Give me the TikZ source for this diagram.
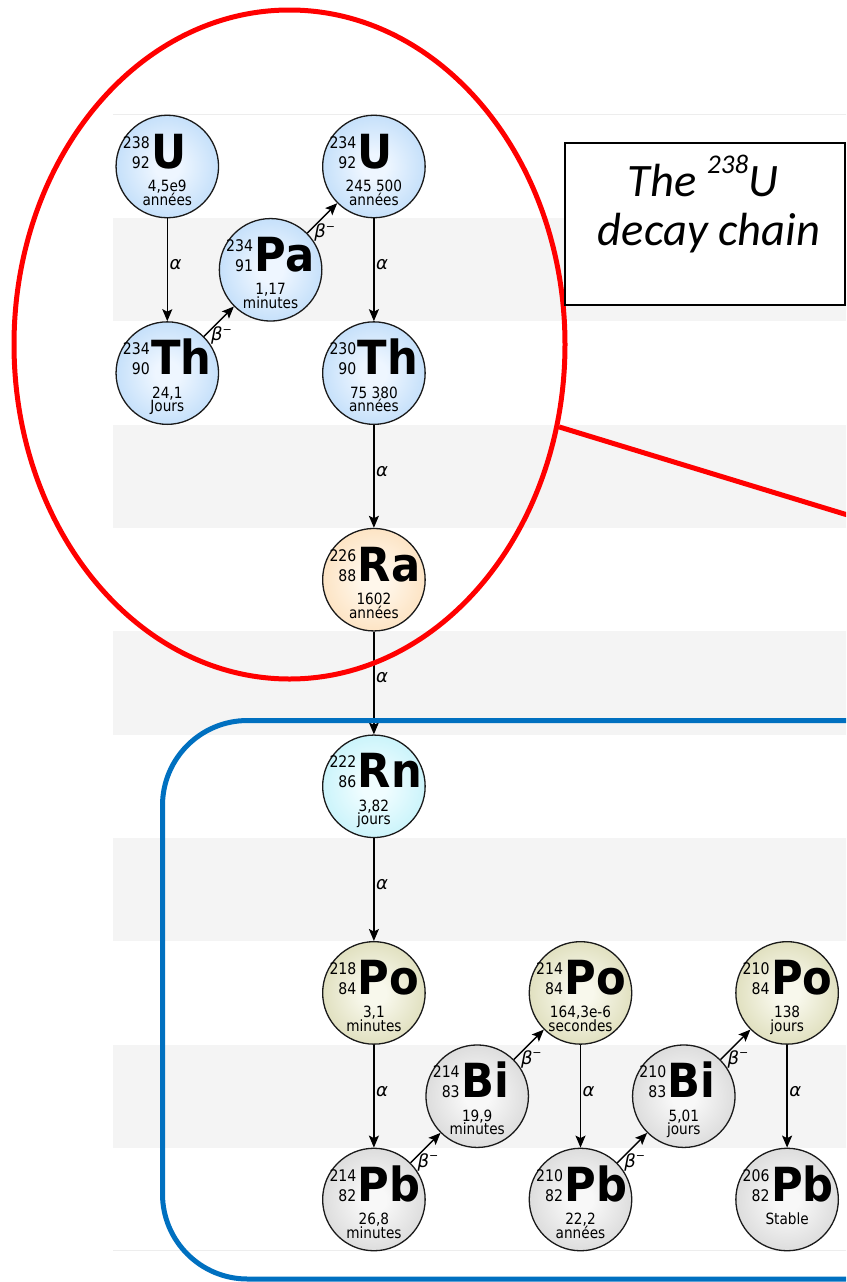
\documentclass[tikz,border=0pt]{standalone}
\usepackage{fontspec}
\usetikzlibrary{arrows.meta,shapes.geometric}
\setmainfont{DejaVu Sans}
\newfontfamily\condfont[FakeStretch=0.88]{DejaVu Sans}
\newfontfamily\symbfont[FakeStretch=0.92]{DejaVu Sans}
\newfontfamily\titlefont{Carlito}

% colours
\definecolor{stripe}{HTML}{F4F4F4}
\definecolor{chartline}{HTML}{EDEDED}
\definecolor{ringred}{HTML}{FF0000}
\definecolor{frameblue}{HTML}{0070C0}
\definecolor{nucedge}{HTML}{1A1A1A}
\definecolor{blueIn}{RGB}{238,246,255}  \definecolor{blueOut}{RGB}{145,196,244}
\definecolor{orangeIn}{RGB}{255,247,235}\definecolor{orangeOut}{RGB}{250,203,146}
\definecolor{cyanIn}{RGB}{240,253,255}  \definecolor{cyanOut}{RGB}{155,232,245}
\definecolor{oliveIn}{RGB}{248,248,236} \definecolor{oliveOut}{RGB}{194,193,134}
\definecolor{greyIn}{RGB}{248,248,248}  \definecolor{greyOut}{RGB}{185,185,185}

\pgfdeclareradialshading{blueball}{\pgfpoint{0bp}{0bp}}{color(0bp)=(blueIn); color(6bp)=(blueIn); color(50bp)=(blueOut)}
\pgfdeclareradialshading{orangeball}{\pgfpoint{0bp}{0bp}}{color(0bp)=(orangeIn); color(6bp)=(orangeIn); color(50bp)=(orangeOut)}
\pgfdeclareradialshading{cyanball}{\pgfpoint{0bp}{0bp}}{color(0bp)=(cyanIn); color(6bp)=(cyanIn); color(50bp)=(cyanOut)}
\pgfdeclareradialshading{oliveball}{\pgfpoint{0bp}{0bp}}{color(0bp)=(oliveIn); color(6bp)=(oliveIn); color(50bp)=(oliveOut)}
\pgfdeclareradialshading{greyball}{\pgfpoint{0bp}{0bp}}{color(0bp)=(greyIn); color(6bp)=(greyIn); color(50bp)=(greyOut)}

% text styles inside a nuclide
\newcommand\nucmass{\condfont\fontsize{16}{16}\selectfont}
\newcommand\nucsym{\symbfont\bfseries\fontsize{47}{47}\selectfont}
\newcommand\nuclife{\condfont\fontsize{15.5}{14}\selectfont}
% put #3 at offset (#1 right, #2 up) from the reference point
\newcommand\placeat[3]{\makebox[0pt][l]{\hspace*{#1}\raisebox{#2}{#3}}}
% mass number, atomic number, symbol, half-life (two lines)
\newcommand\nucbox[5]{\smash{\makebox[0pt][l]{%
  \placeat{-17.5pt}{18.5pt}{\makebox[0pt][r]{\nucmass #1}}%
  \placeat{-17.5pt}{-1.5pt}{\makebox[0pt][r]{\nucmass #2}}%
  \placeat{-16pt}{-1.5pt}{\makebox[0pt][l]{\nucsym #3}}%
  \placeat{0pt}{-25pt}{\makebox[0pt][c]{\nuclife #4}}%
  \placeat{0pt}{-38.5pt}{\makebox[0pt][c]{\nuclife #5}}}}}
\newcommand\betaminus{\textit{β}\raisebox{0.42em}{\fontsize{11}{11}\selectfont −}}

\tikzset{
  nuc/.style={circle, draw=nucedge, line width=1.3pt, minimum size=102.5pt,
    inner sep=0pt, shade, shading=#1},
  decay/.style={draw=black, line width=1.4pt,
    -{Stealth[length=12pt,width=10pt,inset=2.5pt]}},
  alab/.style={pos=0.45, right, inner sep=1.5pt,
    font=\itshape\fontsize{18}{18}\selectfont},
  blab/.style={pos=0.5, anchor=north, inner sep=0pt, xshift=2.5pt, yshift=-5pt,
    font=\fontsize{18}{18}\selectfont},
}

\begin{document}
\begin{tikzpicture}[x=1pt,y=-1pt]
\useasboundingbox (0,0) rectangle (846,1282);
\clip (0,0) rectangle (846,1282);
\fill[white] (0,0) rectangle (846,1282);

% chart rows
\foreach \k in {1,3,5,7,9}
  \fill[stripe] (113,{114.85+103.3*\k}) rectangle (900,{114.85+103.3*(\k+1)});
\draw[chartline, line width=0.8pt] (113,114.85) -- (900,114.85);
\draw[chartline, line width=0.8pt] (113,1250.15) -- (900,1250.15);

% nuclides
\node[nuc=blueball]   (U238)  at (167.3,166.5)  {\nucbox{238}{92}{U}{4,5e9}{années}};
\node[nuc=blueball]   (Th234) at (167.3,373.1)  {\nucbox{234}{90}{Th}{24,1}{Jours}};
\node[nuc=blueball]   (Pa234) at (270.6,269.8)  {\nucbox{234}{91}{Pa}{1,17}{minutes}};
\node[nuc=blueball]   (U234)  at (373.9,166.5)  {\nucbox{234}{92}{U}{245 500}{années}};
\node[nuc=blueball]   (Th230) at (373.9,373.1)  {\nucbox{230}{90}{Th}{75 380}{années}};
\node[nuc=orangeball] (Ra226) at (373.9,579.7)  {\nucbox{226}{88}{Ra}{1602}{années}};
\node[nuc=cyanball]   (Rn222) at (373.9,786.3)  {\nucbox{222}{86}{Rn}{3,82}{jours}};
\node[nuc=oliveball]  (Po218) at (373.9,992.9)  {\nucbox{218}{84}{Po}{3,1}{minutes}};
\node[nuc=greyball]   (Pb214) at (373.9,1199.5) {\nucbox{214}{82}{Pb}{26,8}{minutes}};
\node[nuc=greyball]   (Bi214) at (477.2,1096.2) {\nucbox{214}{83}{Bi}{19,9}{minutes}};
\node[nuc=oliveball]  (Po214) at (580.5,992.9)  {\nucbox{214}{84}{Po}{164,3e-6}{secondes}};
\node[nuc=greyball]   (Pb210) at (580.5,1199.5) {\nucbox{210}{82}{Pb}{22,2}{années}};
\node[nuc=greyball]   (Bi210) at (683.8,1096.2) {\nucbox{210}{83}{Bi}{5,01}{jours}};
\node[nuc=oliveball]  (Po210) at (787.1,992.9)  {\nucbox{210}{84}{Po}{138}{jours}};
\node[nuc=greyball]   (Pb206) at (787.1,1199.5) {\nucbox{206}{82}{Pb}{Stable}{}};

% alpha decays
\draw[decay] (U238)  -- (Th234) node[alab] {α};
\draw[decay] (U234)  -- (Th230) node[alab] {α};
\draw[decay] (Th230) -- (Ra226) node[alab] {α};
\draw[decay] (Ra226) -- (Rn222) node[alab] {α};
\draw[decay] (Rn222) -- (Po218) node[alab] {α};
\draw[decay] (Po218) -- (Pb214) node[alab] {α};
\draw[decay] (Po214) -- (Pb210) node[alab] {α};
\draw[decay] (Po210) -- (Pb206) node[alab] {α};

% beta-minus decays
\draw[decay] (Th234) -- (Pa234) node[blab] {\betaminus};
\draw[decay] (Pa234) -- (U234)  node[blab] {\betaminus};
\draw[decay] (Pb214) -- (Bi214) node[blab] {\betaminus};
\draw[decay] (Bi214) -- (Po214) node[blab] {\betaminus};
\draw[decay] (Pb210) -- (Bi210) node[blab] {\betaminus};
\draw[decay] (Bi210) -- (Po210) node[blab] {\betaminus};

% red highlight ring and its pointer
\node[ellipse, draw=ringred, line width=5pt, minimum width=551pt,
      minimum height=669pt, inner sep=0pt] (ring) at (289.5,344.5) {};
\coordinate (ringtail) at (900,531);
\draw[ringred, line width=5pt] (ring.-17) -- (ringtail);

% caption box
\node[draw=black, line width=2.2pt, fill=white, minimum width=280pt,
      minimum height=162pt, inner sep=0pt] (titlebox) at (705,223.9) {};
\node[anchor=base, inner sep=0pt, font=\titlefont\itshape\fontsize{46.5}{46.5}\selectfont]
  (titleA) at (703,196.7) {The \raisebox{0.5em}{\fontsize{27}{27}\selectfont 238}U};
\node[anchor=base, inner sep=0pt, font=\titlefont\itshape\fontsize{46.5}{46.5}\selectfont]
  (titleB) at (709,245) {decay chain};

% blue frame around the radon branch
\draw[frameblue, line width=5pt, rounded corners=85pt] (162.5,720.5) rectangle (960,1279);
\end{tikzpicture}
\end{document}
